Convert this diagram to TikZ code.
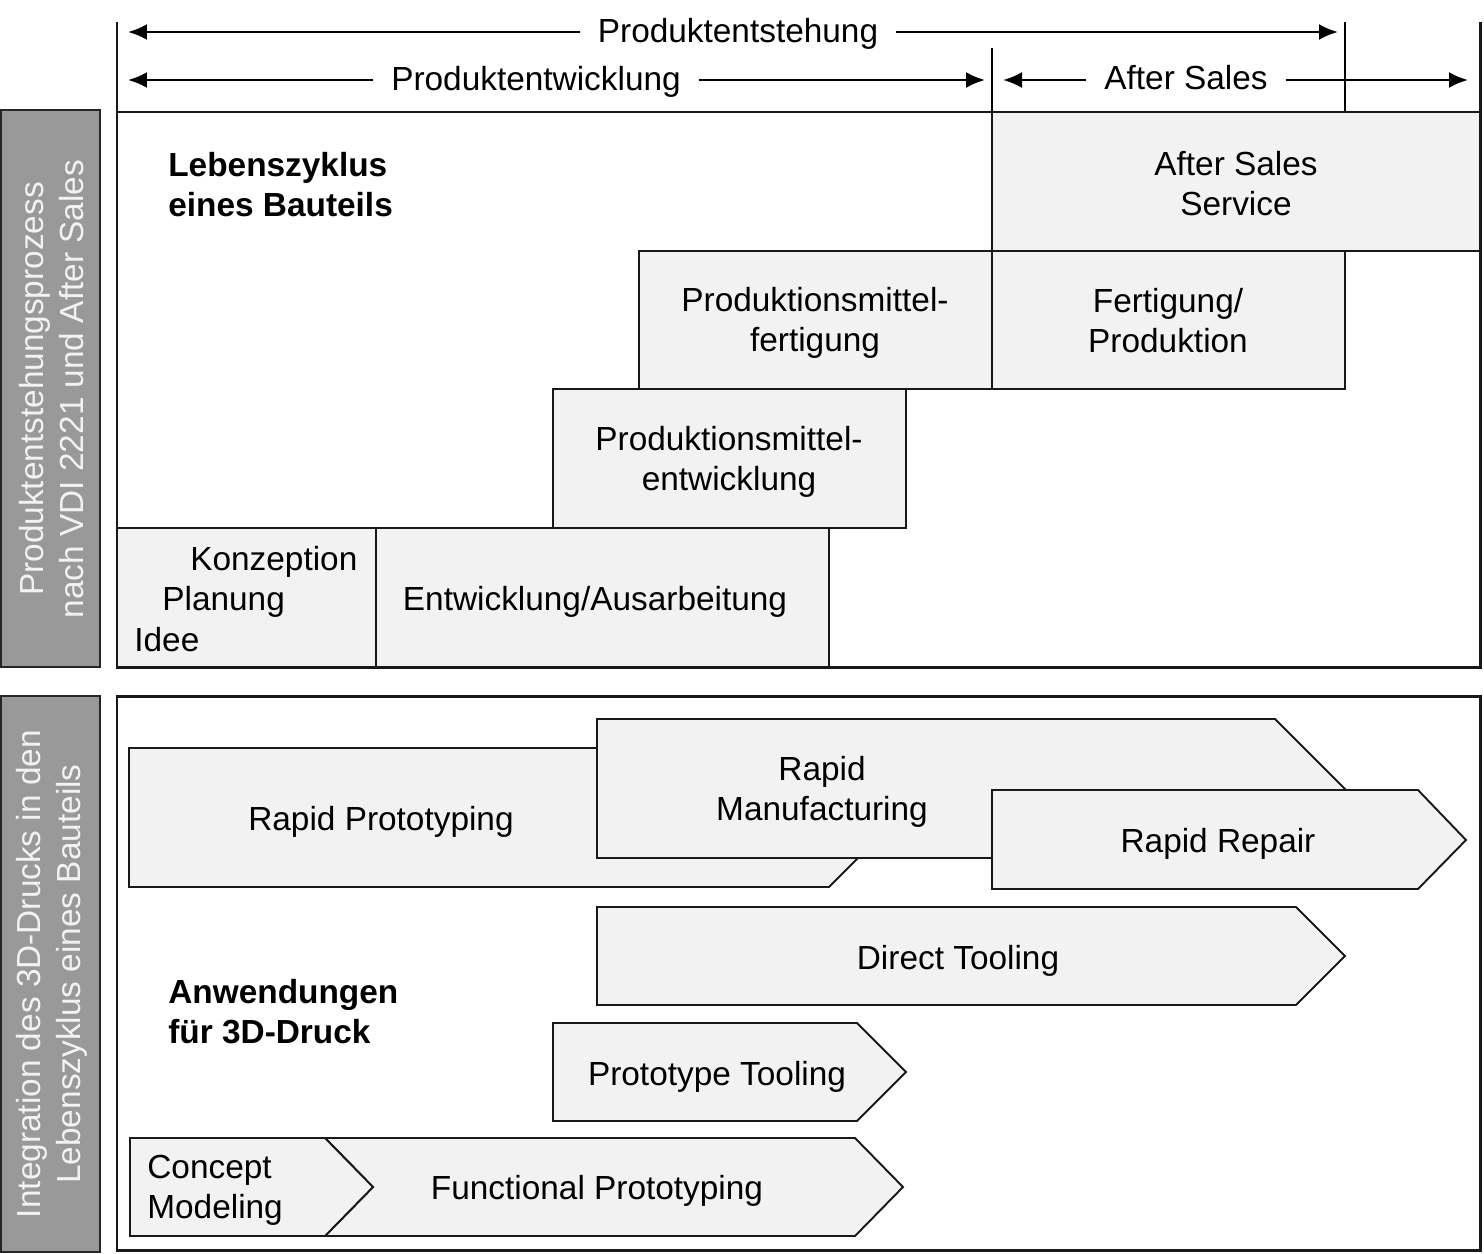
\documentclass[tikz,border=0pt]{standalone}
\usepackage{fontspec}
\setmainfont{Liberation Sans}
\usetikzlibrary{arrows.meta}
\definecolor{boxgray}{HTML}{F2F2F2}
\definecolor{sidegray}{HTML}{999999}
\definecolor{sidetext}{HTML}{F2F2F2}
\tikzset{
  phasebox/.style={draw=black!90, line width=1.1pt, fill=boxgray},
  frame/.style={draw=black!90, line width=1.7pt},
  sidebox/.style={draw=black!85, line width=1.1pt, fill=sidegray},
  sidelabel/.style={rotate=90, align=center, text=sidetext, inner sep=0pt},
  lbl/.style={align=center, inner sep=0pt, yshift=-0.07cm},
  hdr/.style={inner xsep=10pt, inner ysep=0pt, yshift=-0.04cm},
  dimarrow/.style={line width=1.4pt, -{Latex[length=0.38cm,width=0.32cm]}},
}
\begin{document}
\begin{tikzpicture}[x=0.02cm, y=-0.02cm, font=\fontsize{19}{22.8}\selectfont]
            \useasboundingbox (0,0) rectangle (1484,1254);
            % headers
            \node[hdr](entst) at (738,32){Produktentstehung};
            \node[hdr](entw) at (536,80){Produktentwicklung};
            \node[hdr](after) at (1186,76){After Sales};
            \coordinate (entstL) at (128,32);
            \coordinate (entstR) at (1338,32);
            \coordinate (entwL) at (128,80);
            \coordinate (entwR) at (985,80);
            \coordinate (afterL) at (1003,80);
            \coordinate (afterR) at (1468,80);
            \draw[dimarrow](entst.west|-entstL)--(entstL);
            \draw[dimarrow](entst.east|-entstR)--(entstR);
            \draw[dimarrow](entw.west|-entwL)--(entwL);
            \draw[dimarrow](entw.east|-entwR)--(entwR);
            \draw[dimarrow](after.west|-afterL)--(afterL);
            \draw[dimarrow](after.east|-afterR)--(afterR);
            \draw[frame](117,22)--(117,112);
            \draw[frame](1480,22)--(1480,112);
            \draw[line width=1.2pt](1345,22)--(1345,112);
            \draw[line width=1.2pt](992,48)--(992,112);

            % Lebenszyklus
            \draw[sidebox](1,110)rectangle(100,667);
            \node[sidelabel](side1) at (52,389){Produktentstehungsprozess\\nach VDI 2221 und After Sales};
            \draw[phasebox](992,112)rectangle(1480,251);
            \draw[phasebox](992,251)rectangle(1345,389);
            \draw[phasebox](639,251)rectangle(992,389);
            \draw[phasebox](553,389)rectangle(906,528);
            \draw[phasebox](376,528)rectangle(829,667);
            \draw[phasebox](117,528)rectangle(376,667);
            \draw[frame](117,112)rectangle(1480,667);
            \node[lbl](service) at (1236,180){After Sales\\Service};
            \node[lbl](fert) at (1168,317){Fertigung/\\Produktion};
            \node[lbl](pmfert) at (815,319){Produktionsmittel-\\fertigung};
            \node[lbl](pmentw) at (729,458){Produktionsmittel-\\entwicklung};
            \node[lbl](ausarb) at (595,598){Entwicklung/Ausarbeitung};
            \node[lbl, anchor=west](konz) at (190,558){Konzeption};
            \node[lbl, anchor=west](plan) at (162,598){Planung};
            \node[lbl, anchor=west](idee) at (134,636){Idee};
            \node[lbl, align=left, anchor=west, font=\fontsize{19}{22.8}\selectfont\bfseries](zyklus) at (168,181){Lebenszyklus\\eines Bauteils};

            % Anwendungen
            \draw[sidebox](1,696)rectangle(100,1252);
            \node[sidelabel](side2) at (52,974){Integration des 3D-Drucks in den\\Lebenszyklus eines Bauteils};
            \draw[frame](117,696)rectangle(1480,1250);
            \filldraw[phasebox](129,748)--(829,748)--(898,818)--(829,887)--(129,887)--cycle;
            \filldraw[phasebox](597,719)--(1275,719)--(1345,789)--(1275,858)--(597,858)--cycle;
            \filldraw[phasebox](992,790)--(1418,790)--(1466,840)--(1418,889)--(992,889)--cycle;
            \filldraw[phasebox](597,907)--(1296,907)--(1345,956)--(1296,1005)--(597,1005)--cycle;
            \filldraw[phasebox](553,1023)--(857,1023)--(906,1072)--(857,1121)--(553,1121)--cycle;
            \filldraw[phasebox](325,1138)--(855,1138)--(903,1187)--(855,1236)--(325,1236)--(373,1187)--cycle;
            \filldraw[phasebox](130,1138)--(325,1138)--(373,1187)--(325,1236)--(130,1236)--cycle;
            \node[lbl](rp) at (381,818){Rapid Prototyping};
            \node[lbl](rm) at (822,788){Rapid\\Manufacturing};
            \node[lbl](rr) at (1218,840){Rapid Repair};
            \node[lbl](dt) at (958,957){Direct Tooling};
            \node[lbl](pt) at (717,1073){Prototype Tooling};
            \node[lbl](fp) at (597,1187){Functional Prototyping};
            \node[lbl, align=left, anchor=west](cm) at (147,1187){Concept\\Modeling};
            \node[lbl, align=left, anchor=west, font=\fontsize{19}{22.8}\selectfont\bfseries](anw) at (168,1008){Anwendungen\\für 3D-Druck};
        \end{tikzpicture}
\end{document}
